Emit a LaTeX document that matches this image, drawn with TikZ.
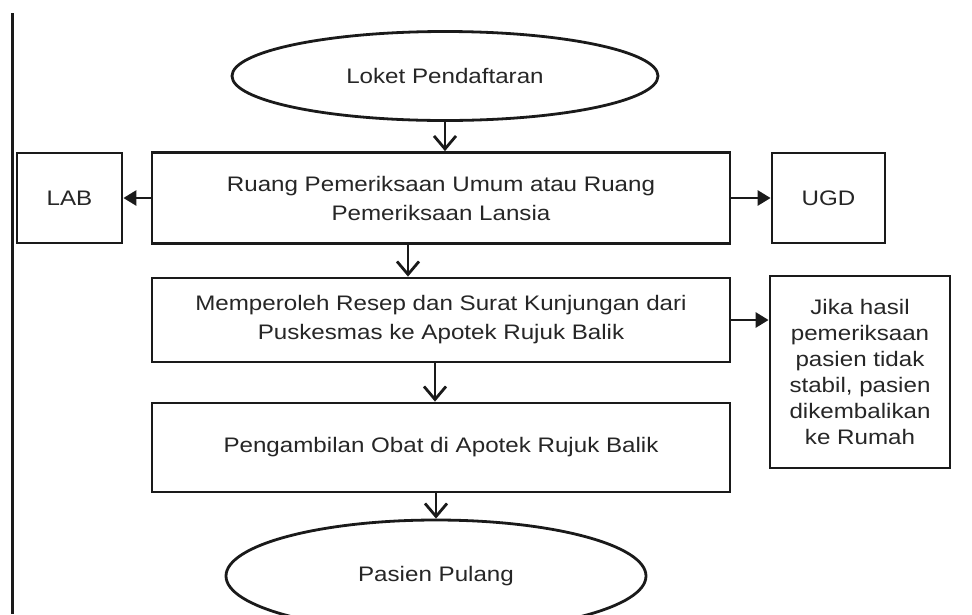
\documentclass[tikz,border=0pt]{standalone}
\usepackage{fontspec}
\setmainfont{Liberation Sans}[FakeStretch=1.15]
\usetikzlibrary{shapes.geometric,arrows.meta,calc}
\definecolor{ink}{HTML}{1A1A1A}
\definecolor{txt}{HTML}{262626}
\tikzset{
  box/.style={draw=ink, line width=2.8pt, rectangle, inner sep=0pt, align=center, text=txt,
    font=\fontsize{21}{29}\selectfont},
  oval/.style={draw=ink, line width=2.8pt, ellipse, inner sep=0pt, text=txt,
    font=\fontsize{21}{29}\selectfont},
  varrow/.style={draw=ink, line width=2.8pt, -{Straight Barb[length=13pt,width=22pt,line width=2.8pt]}},
  harrow/.style={draw=ink, line width=2.8pt, -{Triangle[length=13pt,width=15pt]}},
}
\begin{document}
\begin{tikzpicture}[x=1pt,y=-1pt]
\clip (0,0) rectangle (972,614);
\fill[white] (0,0) rectangle (972,614);
\draw[ink, line width=2.2pt] (12.5,13) -- (12.5,614);
\node[oval, minimum width=426pt, minimum height=89pt] (loket) at (445,76) {Loket Pendaftaran};
\node[box, minimum width=578pt, minimum height=91pt] (b1) at (441,198) {Ruang Pemeriksaan Umum atau Ruang\\Pemeriksaan Lansia};
\node[box, minimum width=105pt, minimum height=90pt] (lab) at (69.5,198) {LAB};
\node[box, minimum width=113pt, minimum height=90pt] (ugd) at (828.5,198) {UGD};
\node[box, minimum width=578pt, minimum height=84pt] (b2) at (441,320) {Memperoleh Resep dan Surat Kunjungan dari\\Puskesmas ke Apotek Rujuk Balik};
\node[box, minimum width=180pt, minimum height=192pt, font=\fontsize{21}{26}\selectfont] (jika) at (860,372) {Jika hasil\\pemeriksaan\\pasien tidak\\stabil, pasien\\dikembalikan\\ke Rumah};
\node[box, minimum width=578pt, minimum height=89pt] (b3) at (441,447.5) {Pengambilan Obat di Apotek Rujuk Balik};
\node[oval, minimum width=420pt, minimum height=112pt] (pulang) at (436,576) {Pasien Pulang};
\draw[varrow] (loket.south) -- (loket.south |- b1.north);
\draw[varrow] ([xshift=-33pt]b1.south) -- ([xshift=-33pt]b2.north);
\draw[varrow] ([xshift=-6pt]b2.south) -- ([xshift=-6pt]b3.north);
\draw[varrow] (b3.south -| pulang.north) -- (pulang.north);
\draw[harrow] (b1.west) -- (lab.east);
\draw[harrow] (b1.east) -- (ugd.west);
\draw[harrow] (b2.east) -- (b2.east -| jika.west);
\end{tikzpicture}
\end{document}
